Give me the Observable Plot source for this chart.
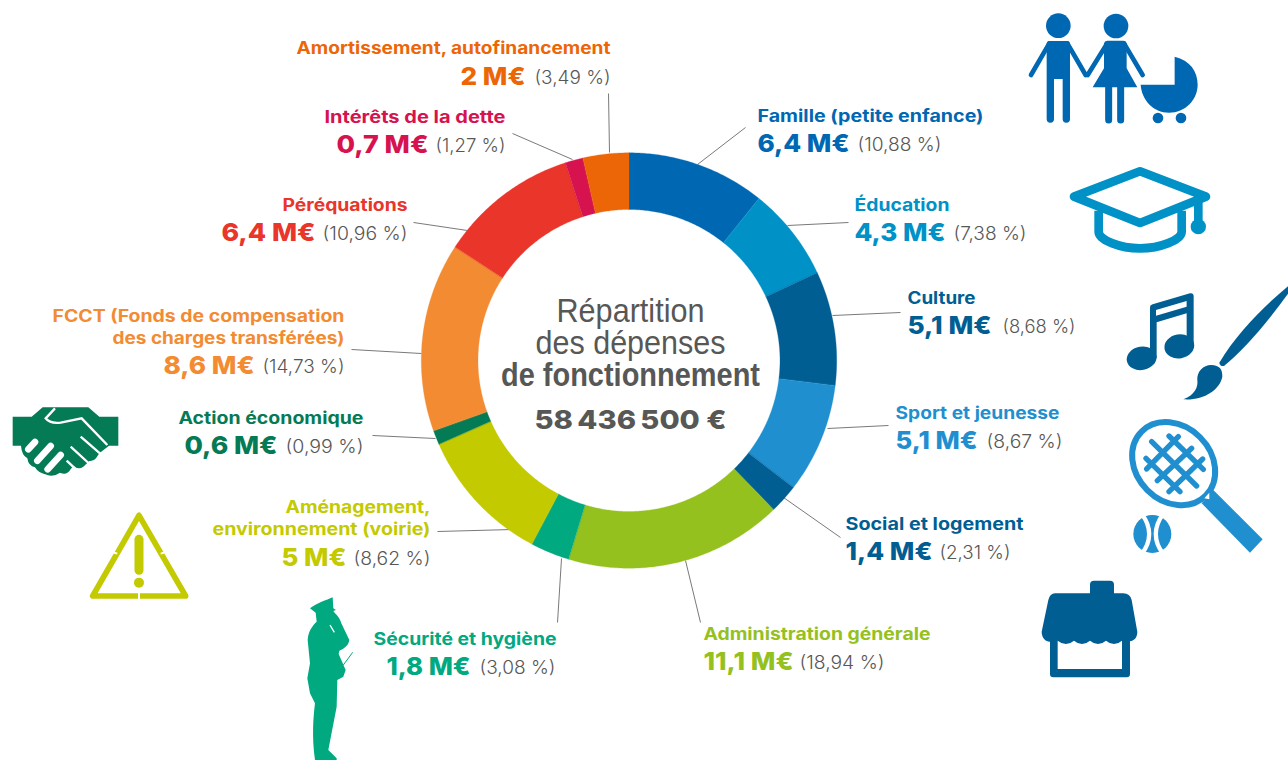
<!DOCTYPE html>
<html lang="fr"><head><meta charset="utf-8">
<script src="https://cdn.jsdelivr.net/npm/d3@7"></script>
<script src="https://cdn.jsdelivr.net/npm/@observablehq/plot@0.6"></script>
<style>html,body{margin:0;padding:0;background:#fff;overflow:hidden}svg{display:block}</style>
</head><body><div id="chart"></div>
<script>
// Data
const names = ["Famille (petite enfance)","Éducation","Culture","Sport et jeunesse","Social et logement","Administration générale","Sécurité et hygiène","Aménagement, environnement (voirie)","Action économique","FCCT (Fonds de compensation des charges transférées)","Péréquations","Intérêts de la dette","Amortissement, autofinancement"];
// Share of the ring each slice covers (%)
const shares = [10.76,7.3,8.87,8.55,2.27,16.95,3.05,10.65,1.1,14.7,10.85,1.39,3.56];
const amounts = ["6,4 M€","4,3 M€","5,1 M€","5,1 M€","1,4 M€","11,1 M€","1,8 M€","5 M€","0,6 M€","8,6 M€","6,4 M€","0,7 M€","2 M€"];
const percents = ["(10,88 %)","(7,38 %)","(8,68 %)","(8,67 %)","(2,31 %)","(18,94 %)","(3,08 %)","(8,62 %)","(0,99 %)","(14,73 %)","(10,96 %)","(1,27 %)","(3,49 %)"];
const colors = ["#0067b2","#0091c7","#005e93","#1f8fd0","#005e93","#95c11f","#00a97f","#c3ca00","#047a55","#f28b32","#e9352a","#d6124f","#ec6608"];
// Layout
const titleLines = [["Famille (petite enfance)"],["Éducation"],["Culture"],["Sport et jeunesse"],["Social et logement"],["Administration générale"],["Sécurité et hygiène"],["Aménagement,","environnement (voirie)"],["Action économique"],["FCCT (Fonds de compensation","des charges transférées)"],["Péréquations"],["Intérêts de la dette"],["Amortissement, autofinancement"]];
const titleWidths = [[226],[95],[68],[164],[178],[227],[183],[145,218],[185],[292,232],[125],[181],[314]];
const labelSide = ["start","start","start","start","start","start","end","end","end","end","end","end","end"];
const labelX = [757,854,907,895,845,703,556,430,363,344,407,505,610];
const labelY = [116,205,298,413,524,634,639,507,418,316,205,117,48];
const amountX = [757,854,907,895,845,703,470,346,277,254,315,428,525];
const amountY = [143,232,325,440,551,661,666,557,445,365,232,144,76];
const amountWidths = [92,91,84,82,87,90,84,65,93,91,94,92,65];
const percentX = [857,953,1002,986,939,799,555,430,363,344,407,505,610];
const percentWidths = [84,73,73,76,71,85,76,77,78,82,85,70,76];
const leaderIn = [[697,164],[787,225],[832,315],[827,428],[783,497],[685,560],[561,558],[512,529],[435,438],[421,353],[467,230],[572,159],[609,152]];
const leaderOut = [[745,127],[848,222],[900,312],[888,425],[840,537],[700,622],[557,622],[437,531],[372,435],[351,349],[413,222],[512,133],[608,93]];
const ring = {cx:628.5, cy:360, outer:207.7, inner:151};
const centerRegular = [["Répartition",311.5,148],["des dépenses",343.5,190]];
const centerBold = [["de fonctionnement",375.5,259]];
const total = [["58\u202F436\u202F500 €",420,192]];

const FONT = "Inter, 'Liberation Sans', sans-serif";
const NARROW = "'Liberation Sans', Arimo, sans-serif";

// Slices: polygon outlines walked from the cumulative shares
const sum = d3.sum(shares);
let cum = 0;
const arcPts = [];
names.forEach((name,i)=>{
  const a0 = cum/sum*2*Math.PI; cum += shares[i]; const a1 = cum/sum*2*Math.PI;
  const n = Math.max(4, Math.ceil((a1-a0)/0.01));
  const ang = d3.range(n+1).map(k=>a0+(a1-a0)*k/n);
  const at = (r,a)=>({name, x:ring.cx+r*Math.sin(a), y:ring.cy-r*Math.cos(a)});
  ang.forEach(a=>arcPts.push(at(ring.outer,a)));
  ang.slice().reverse().forEach(a=>arcPts.push(at(ring.inner,a)));
});

const rows = names.map((name,i)=>({name,i}));
const titleRows = rows.flatMap(r=>titleLines[r.i].map((t,k)=>({name:r.name,t,w:titleWidths[r.i][k],side:labelSide[r.i],x:labelX[r.i],y:labelY[r.i]+k*22})));

// Text mark whose drawn width is fitted to the width
const fitted = (data, widthOf, options) => Plot.text(data, {...options,
  render(I, s, v, d, c, next){
    const g = next(I, s, v, d, c);
    d3.select(g).selectAll("text").attr("lengthAdjust","spacingAndGlyphs").attr("textLength",(_,k)=>widthOf(data[I[k]]));
    return g;
  }});

// Pictograms (traced from the reference, not data)
function icon(group, ox, oy, color, markup){
  return group.append("g").attr("transform",`translate(${ox},${oy}) scale(0.3333)`).attr("fill",color).html(markup);
}
function icons(){
  const g = d3.create("svg:g");
  icon(g,1020,0,"#0067b2",`
   <circle cx="115" cy="77" r="37"/><circle cx="288" cy="78" r="37"/>
   <path d="M80 132Q80 123 90 123H140Q150 123 150 132V357a11 11 0 0 1-22 0V237H102V357a11 11 0 0 1-22 0Z"/>
   <path d="M88 130L33 225M142 130L197 225M262 130L203 225M312 130L368 225" stroke="#0067b2" stroke-width="14" stroke-linecap="round"/>
   <path d="M262 122H310Q318 122 320 130V205L352 262H218L252 205V130Q254 122 262 122Z"/>
   <path d="M266 262V360M302 262V360" stroke="#0067b2" stroke-width="21" stroke-linecap="round"/>
   <path d="M362 254H464V170C510 180 533 215 533 254C533 300 495 338 447 338C400 338 365 300 362 254Z"/>
   <circle cx="414" cy="354" r="16"/><circle cx="483" cy="354" r="16"/>`);
  icon(g,1020,0,"#0091c7",`
   <g fill="none" stroke="#0091c7" stroke-width="26" stroke-linejoin="round" stroke-linecap="round">
   <path d="M360 514L558 590L360 669L162 590Z"/>
   <path d="M236 632V695C236 720 300 745 360 745C420 745 485 720 485 695V632" stroke-linecap="butt"/>
   <path d="M535 600V680" stroke-linecap="butt"/></g><circle cx="535" cy="680" r="23"/>`);
  icon(g,1020,270,"#005e93",`
   <ellipse cx="365" cy="265" rx="45" ry="35" transform="rotate(-10 365 265)"/>
   <ellipse cx="478" cy="229" rx="45" ry="36" transform="rotate(-10 478 229)"/>
   <path d="M390 112Q390 105 398 103L510 70Q520 68 521 78V230H500V130L410 157V265H390Z"/>
   <path d="M408 120L500 93V110L408 137Z" fill="#fff"/>
   <path d="M805 48V70C740 160 670 240 612 288Q600 290 598 278C650 190 730 110 805 48Z"/>
   <path d="M573 285C600 285 608 300 607 320C600 360 550 392 490 388C525 375 535 350 532 330C530 305 550 285 573 285Z"/>`);
  icon(g,1020,270,"#1f8fd0",`
   <ellipse cx="461" cy="581" rx="136" ry="112" transform="rotate(45 461 581)" fill="none" stroke="#1f8fd0" stroke-width="18"/>
   <path d="M395 515L530 648M447 498L550 598M378 565L480 665M475 500L380 597M515 535L412 632M548 567L447 665" stroke="#1f8fd0" stroke-width="16" stroke-linecap="round"/>
   <path d="M545 700L580 660L728 808L690 848Z"/>
   <path d="M553 685L568 668V688Z" fill="#fff"/>
   <circle cx="397" cy="792" r="57"/>
   <path d="M365 732C395 770 395 815 365 852M430 732C400 770 400 815 430 852" fill="none" stroke="#fff" stroke-width="13"/>`);
  icon(g,1020,570,"#005e93",`
   <rect x="210" y="32" width="72" height="60" rx="12"/>
   <rect x="90" y="180" width="240" height="142" rx="10"/>
   <rect x="113" y="200" width="193" height="97" fill="#fff"/>
   <path d="M105 70H310Q330 70 335 90L352 185C352 205 340 220 306 212Q282 232 258 212Q234 232 210 212Q186 232 162 212Q138 232 113 212C85 222 65 210 65 185L85 90Q90 70 105 70Z"/>`);
  icon(g,0,390,"#047a55",`
   <path d="M38 80H95L128 52H265L298 80H355V167H327L298 190L288 205Q280 215 268 213L250 230Q235 240 220 228L212 238Q200 258 180 248Q160 262 140 254Q115 250 105 232Q85 228 82 205Q65 195 63 167H38Z"/>
   <path d="M165 55L137 85Q150 102 182 98L245 85L322 165M242 140L305 195M212 170L272 225M200 212L228 238" fill="none" stroke="#fff" stroke-width="7"/>
   <path d="M85 178L105 156M112 212L152 168M143 238L182 195" stroke="#fff" stroke-width="20" stroke-linecap="round"/>`);
  icon(g,0,390,"#c3ca00",`
   <path d="M417 376L278 618H557Z" fill="none" stroke="#c3ca00" stroke-width="17" stroke-linejoin="round"/>
   <path d="M338 487L352 491M482 491L496 487M417 605V630" stroke="#fff" stroke-width="6"/>
   <path d="M417 448V541" stroke="#c3ca00" stroke-width="27" stroke-linecap="round"/>
   <circle cx="417" cy="578" r="15"/>`);
  icon(g,280,590,"#00a97f",`
   <path d="M90 55C110 40 140 30 158 22L160 55L168 60L160 63C165 72 178 78 184 100L208 150C206 165 195 175 178 182L176 192L197 240L190 260L172 270L170 350L145 480L170 505V510H105C95 440 100 380 105 340L90 310L82 265L90 220L83 150C85 120 100 105 110 95L107 68Z"/>
   <path d="M190 225L218 187" stroke="#00a97f" stroke-width="3"/>
   <path d="M150 105L163 127" stroke="#fff" stroke-width="4"/>`);
  return g.node();
}

const textBase = {fontFamily:FONT, fill:"name"};
const leftTexts = rows.filter(r=>labelSide[r.i]=="start"), rightTexts = rows.filter(r=>labelSide[r.i]=="end");
const amountMark = (data,anchor)=>fitted(data,r=>amountWidths[r.i],{x:r=>amountX[r.i],y:r=>amountY[r.i],text:r=>amounts[r.i],textAnchor:anchor,...textBase,fontSize:25,fontWeight:800});
const percentMark = (data,anchor)=>fitted(data,r=>percentWidths[r.i],{x:r=>percentX[r.i],y:r=>amountY[r.i]+2,text:r=>percents[r.i],textAnchor:anchor,fontFamily:FONT,fontSize:18,fontWeight:300,fill:"#575756"});
const titleMark = anchor=>{const data=titleRows.filter(d=>d.side==anchor);return fitted(data,d=>d.w,{x:"x",y:"y",text:"t",textAnchor:anchor,...textBase,fontSize:17,fontWeight:700});};

const plot = Plot.plot({
  width:1288, height:760, margin:0,
  x:{domain:[0,1288], range:[0,1288], axis:null},
  y:{domain:[0,760], range:[0,760], axis:null},
  color:{domain:names, range:colors},
  marks:[
    Plot.link(rows,{x1:r=>leaderIn[r.i][0],y1:r=>leaderIn[r.i][1],x2:r=>leaderOut[r.i][0],y2:r=>leaderOut[r.i][1],stroke:"#575756",strokeWidth:0.8}),
    Plot.line(arcPts,{x:"x",y:"y",z:"name",fill:"name",stroke:"name",strokeWidth:0.3,curve:"linear-closed"}),
    titleMark("start"), titleMark("end"),
    amountMark(leftTexts,"start"), amountMark(rightTexts,"end"),
    percentMark(leftTexts,"start"), percentMark(rightTexts,"end"),
    fitted(centerRegular,d=>d[2],{x:()=>630,y:d=>d[1],text:d=>d[0],fontFamily:NARROW,fontSize:32.5,fontWeight:400,fill:"#575756"}),
    fitted(centerBold,d=>d[2],{x:()=>630,y:d=>d[1],text:d=>d[0],fontFamily:NARROW,fontSize:32.5,fontWeight:700,fill:"#575756"}),
    fitted(total,d=>d[2],{x:()=>630,y:d=>d[1],text:d=>d[0],fontFamily:FONT,fontSize:26,fontWeight:800,fill:"#575756"}),
    icons
  ]
});
document.getElementById("chart").append(plot);
</script></body></html>
